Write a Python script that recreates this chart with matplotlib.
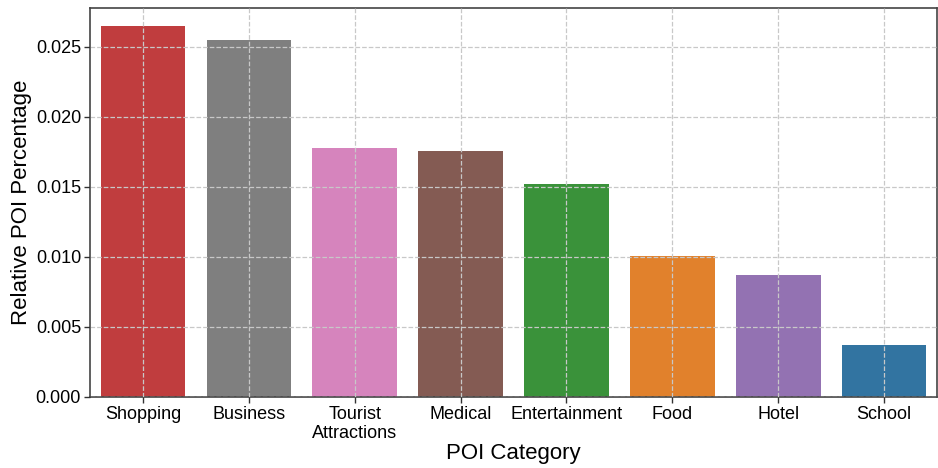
import matplotlib
matplotlib.use("Agg")
import matplotlib.pyplot as plt
import seaborn as sns

categories = ["Shopping", "Business", "Tourist\nAttractions", "Medical",
              "Entertainment", "Food", "Hotel", "School"]
values = [0.02643, 0.02543, 0.01779, 0.01757, 0.01521, 0.01007, 0.00871, 0.00371]
base_colors = ["tab:red", "tab:gray", "tab:pink", "tab:brown",
               "tab:green", "tab:orange", "tab:purple", "tab:blue"]

plt.rcParams['font.family'] = ['Liberation Sans', 'DejaVu Sans']

colors = [sns.desaturate(c, 0.75) for c in base_colors]

fig = plt.figure(figsize=(9.38, 4.68), dpi=100)
ax = fig.add_axes([0.096, 0.152, 0.903, 0.831])

x = list(range(len(categories)))
ax.bar(x, values, width=0.8, color=colors, zorder=1)
ax.set_xlim(-0.5, len(categories) - 0.5)
ax.set_ylim(0, max(values) * 1.05)
ax.set_yticks([0.0, 0.005, 0.010, 0.015, 0.020, 0.025])
ax.yaxis.set_major_formatter(matplotlib.ticker.FormatStrFormatter('%.3f'))
ax.set_xticks(x)
ax.set_xticklabels(categories, fontsize=13, linespacing=1.15)
ax.tick_params(axis='y', labelsize=13, pad=2.5)
ax.tick_params(axis='x', pad=2.5)
ax.tick_params(axis='both', direction='out', length=4, width=1, color='#333333')

ax.grid(True, linestyle='--', color='#c8c8c8', linewidth=0.9, zorder=3)
ax.set_axisbelow(False)

for s in ax.spines.values():
    s.set_color('#444444')
    s.set_linewidth(1.2)

ax.set_xlabel("POI Category", fontsize=16, va='center')
ax.xaxis.set_label_coords(0.5, -0.145)
ax.set_ylabel("Relative POI Percentage", fontsize=16, va='center')
ax.yaxis.set_label_coords(-0.081, 0.5)

fig.savefig("out.png", dpi=100)
